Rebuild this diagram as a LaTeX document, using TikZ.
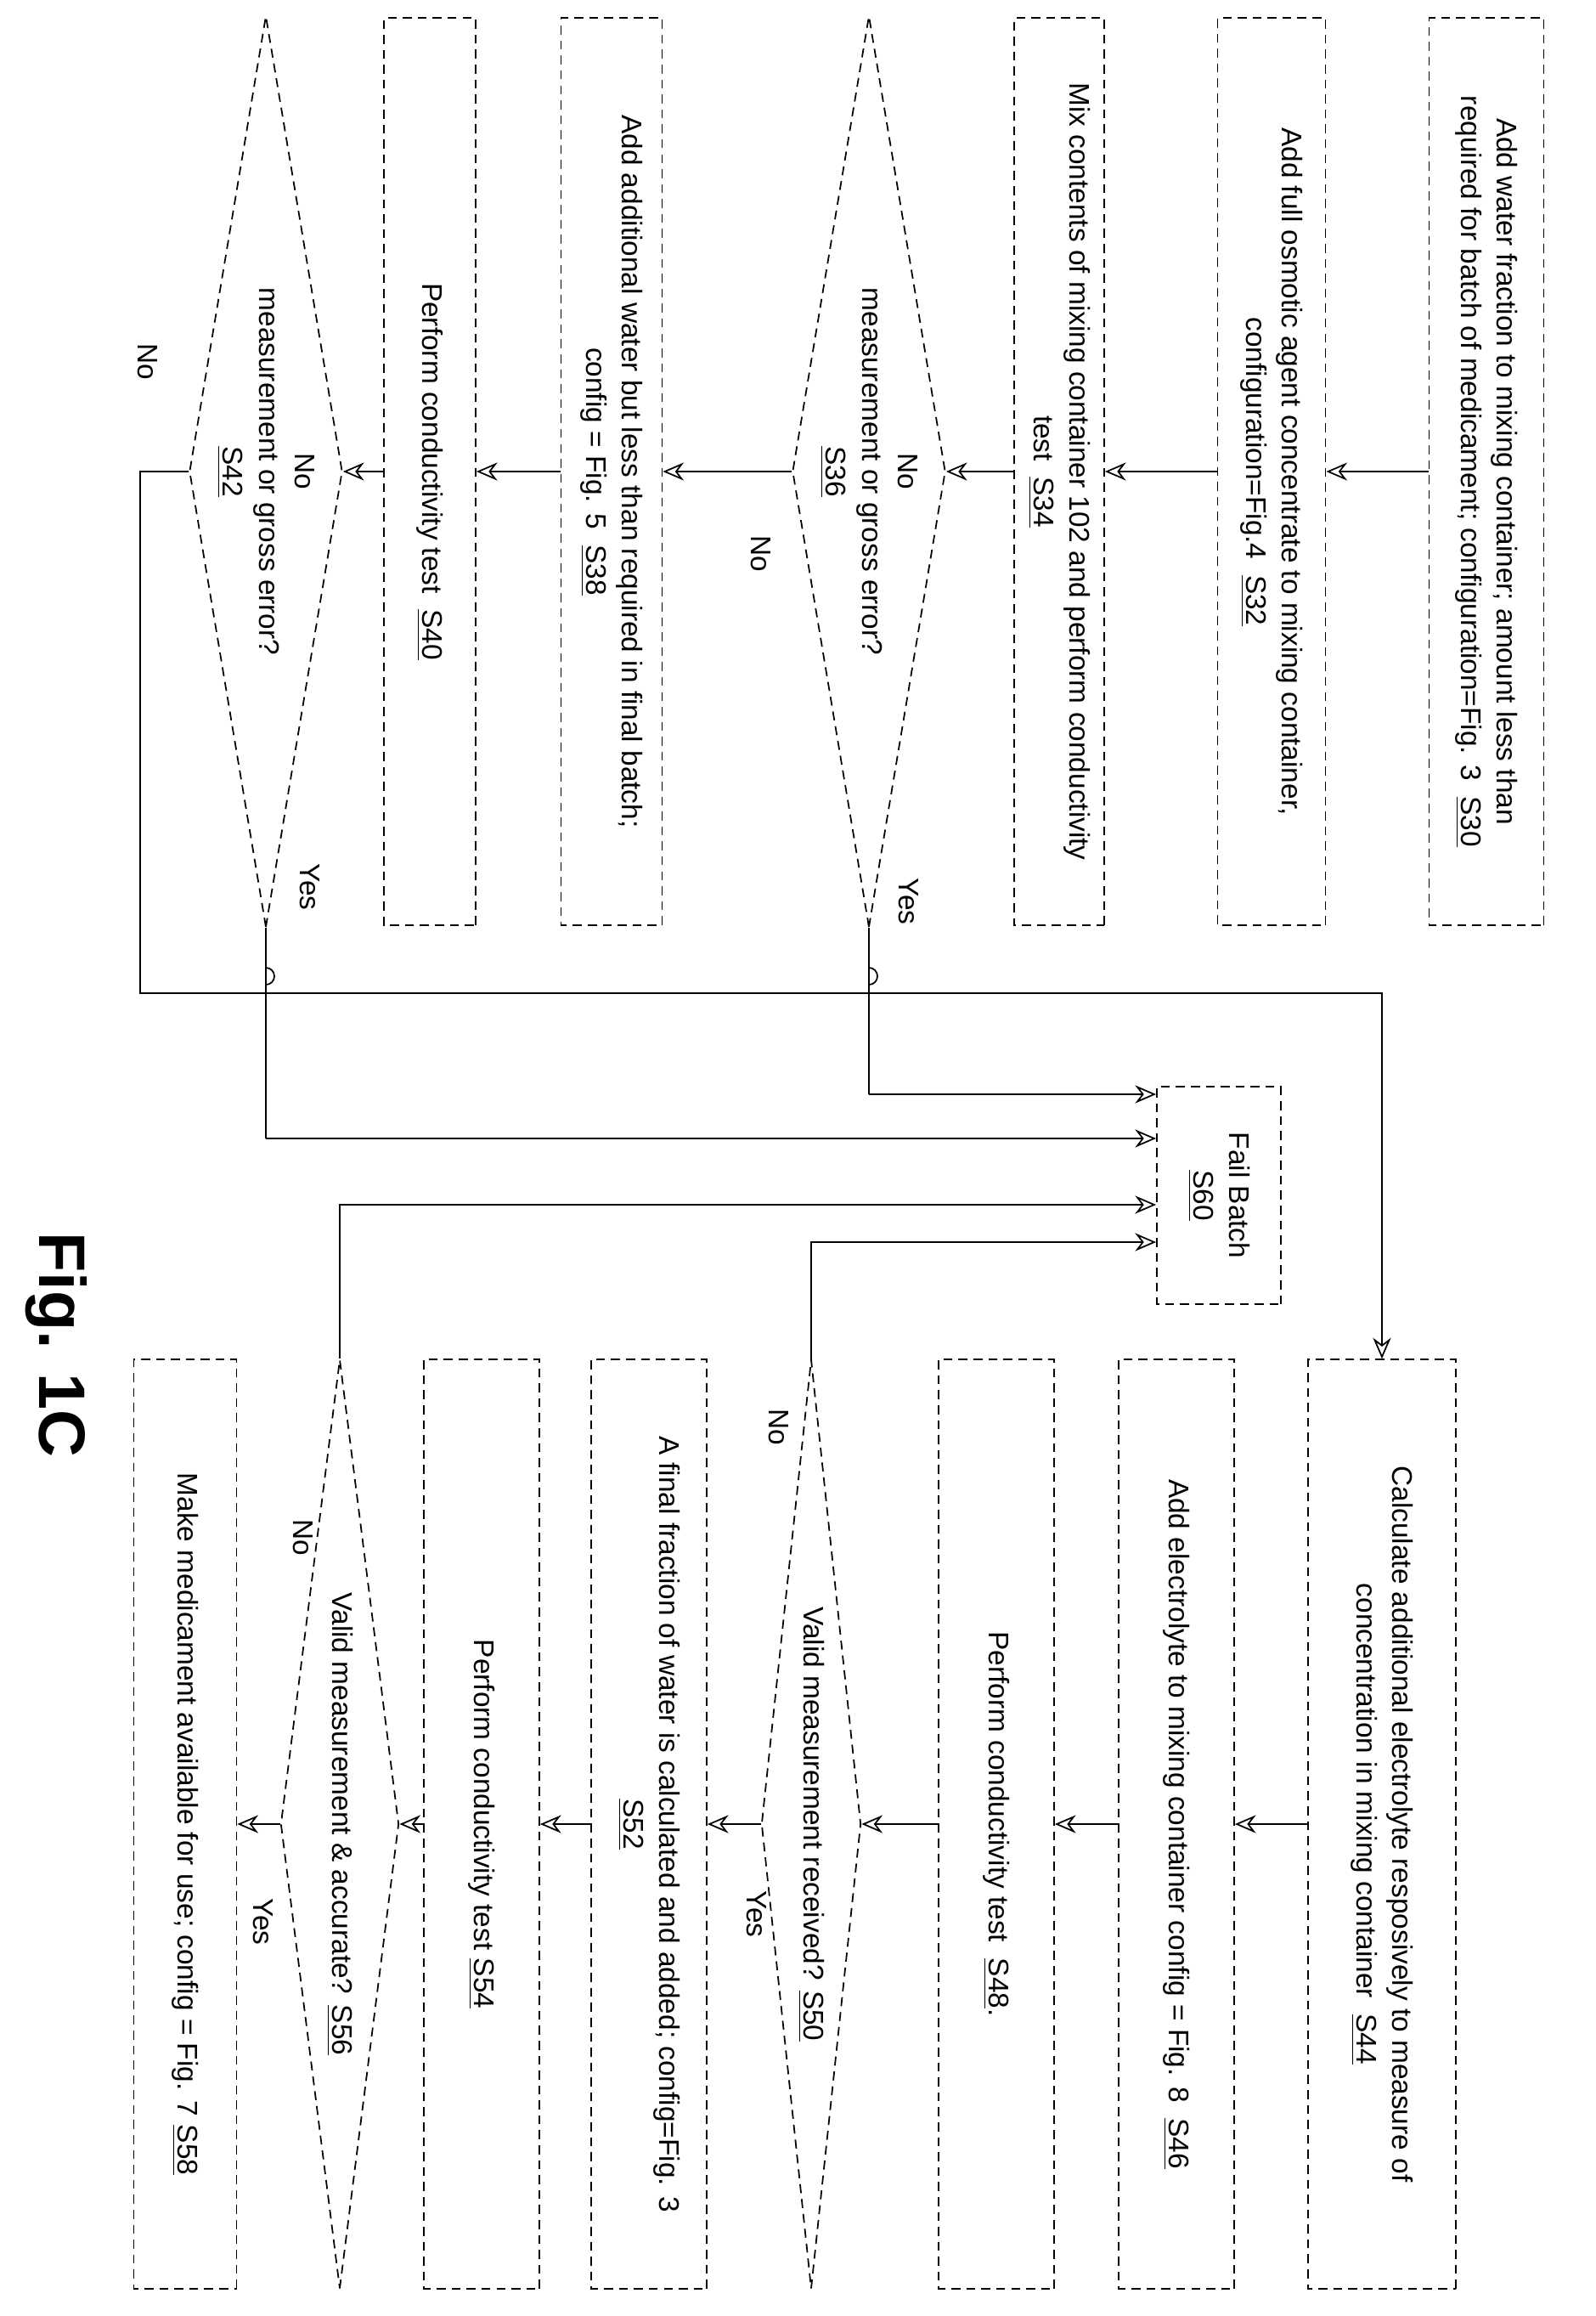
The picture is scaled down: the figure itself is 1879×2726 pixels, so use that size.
\documentclass[tikz,border=0pt]{standalone}
\usepackage{fontspec}
\setmainfont{Liberation Sans}
\usetikzlibrary{shapes.geometric,arrows.meta}
\begin{document}
\begin{tikzpicture}[x=0.01cm,y=-0.01cm,
  box/.style={draw,densely dashed,line width=0.5pt,rotate=-90,inner sep=2pt,align=center,font=\fontsize{9.5}{12}\selectfont},
  dia/.style={draw,densely dashed,line width=0.5pt,rotate=-90,diamond,inner sep=0pt},
  txt/.style={rotate=-90,align=center,font=\fontsize{9.5}{12}\selectfont},
  arr/.style={line width=0.5pt,-{Stealth[open,length=7pt,width=6pt]}},
  ln/.style={line width=0.5pt}]
\useasboundingbox (0,0) rectangle (1879,2726);
% top column
\node[box,minimum width=10.67cm,minimum height=1.35cm] (s30) at (1750,555) {Add water fraction to mixing container; amount less than\\required for batch of medicament; configuration=Fig. 3\ \ \underline{S30}};
\node[box,minimum width=10.67cm,minimum height=1.27cm] (s32) at (1497,555) {Add full osmotic agent concentrate to mixing container,\\configuration=Fig.4\ \ \underline{S32}};
\node[box,minimum width=10.67cm,minimum height=1.06cm] (s34) at (1247,555) {Mix contents of mixing container 102 and perform conductivity\\test\ \ \underline{S34}};
\node[dia,minimum width=10.72cm,minimum height=1.8cm] (s36) at (1023,555) {};
\node[txt] at (1023,555) {No\\measurement or gross error?\\\underline{S36}};
\node[box,minimum width=10.67cm,minimum height=1.19cm] (s38) at (720,555) {Add additional water but less than required in final batch;\\config = Fig. 5\ \ \underline{S38}};
\node[box,minimum width=10.67cm,minimum height=1.08cm] (s40) at (506,555) {Perform conductivity test\ \ \underline{S40}};
\node[dia,minimum width=10.72cm,minimum height=1.8cm] (s42) at (313,555) {};
\node[txt] at (313,555) {No\\measurement or gross error?\\\underline{S42}};
% fail
\node[box,minimum width=2.56cm,minimum height=1.46cm] (fail) at (1435,1407) {Fail Batch\\\underline{S60}};
% bottom column
\node[box,minimum width=10.93cm,minimum height=1.74cm] (s44) at (1627,2147) {Calculate additional electrolyte resposively to measure of\\concentration in mixing container\ \ \underline{S44}};
\node[box,minimum width=10.93cm,minimum height=1.36cm] (s46) at (1385,2147) {Add electrolyte to mixing container config = Fig. 8\ \ \underline{S46}};
\node[box,minimum width=10.93cm,minimum height=1.36cm] (s48) at (1173,2147) {Perform conductivity test\ \ \underline{S48}.};
\node[dia,minimum width=10.93cm,minimum height=1.17cm] (s50) at (955,2147) {};
\node[txt] at (955,2147) {Valid measurement received? \underline{S50}};
\node[box,minimum width=10.93cm,minimum height=1.36cm] (s52) at (764,2147) {A final fraction of water is calculated and added; config=Fig. 3\\\underline{S52}};
\node[box,minimum width=10.93cm,minimum height=1.36cm] (s54) at (567,2147) {Perform conductivity test \underline{S54}};
\node[dia,minimum width=10.93cm,minimum height=1.39cm] (s56) at (400,2147) {};
\node[txt] at (400,2147) {Valid measurement \& accurate? \underline{S56}};
\node[box,minimum width=10.93cm,minimum height=1.21cm] (s58) at (218,2147) {Make medicament available for use; config = Fig. 7 \underline{S58}};
% main flow arrows
\draw[arr] (s30.south) -- (s32.north);
\draw[arr] (s32.south) -- (s34.north);
\draw[arr] (s34.south) -- (s36.north);
\draw[arr] (s36.south) -- (s38.north);
\draw[arr] (s38.south) -- (s40.north);
\draw[arr] (s40.south) -- (s42.north);
\draw[arr] (s44.south) -- (s46.north);
\draw[arr] (s46.south) -- (s48.north);
\draw[arr] (s48.south) -- (s50.north);
\draw[arr] (s50.south) -- (s52.north);
\draw[arr] (s52.south) -- (s54.north);
\draw[arr] (s54.south) -- (s56.north);
\draw[arr] (s56.south) -- (s58.north);
% S42 No -> S44
\coordinate (c1) at (165,555);
\coordinate (c2) at (165,1169);
\coordinate (c3) at (1627,1169);
\draw[arr] (s42.south) -- (c1) -- (c2) -- (c3) -- (s44.west);
% yes branches with hops
\coordinate (h1a) at (1023,1159);
\coordinate (y1) at (1023,1288);
\draw[ln] (s36.east) -- (h1a) arc[start angle=-90,end angle=90,radius=0.1cm] -- (y1);
\draw[arr] (y1) -- (fail.south |- y1);
\coordinate (h2a) at (313,1159);
\coordinate (y2) at (313,1340);
\draw[ln] (s42.east) -- (h2a) arc[start angle=-90,end angle=90,radius=0.1cm] -- (y2);
\draw[arr] (y2) -- (fail.south |- y2);
% bottom No branches
\coordinate (n1) at (955,1462);
\draw[arr] (s50.west) -- (n1) -- (fail.south |- n1);
\coordinate (n2) at (400,1418);
\draw[arr] (s56.west) -- (n2) -- (fail.south |- n2);
% labels
\node[txt] at (1070,1061) {Yes};
\node[txt] at (896,652) {No};
\node[txt] at (174,426) {No};
\node[txt] at (365,1044) {Yes};
\node[txt] at (917,1680) {No};
\node[txt] at (891,2253) {Yes};
\node[txt] at (357,1810) {No};
\node[txt] at (310,2262) {Yes};
\node[rotate=-90,font=\fontsize{22}{24}\bfseries] (fig) at (66,1583) {Fig. 1C};
\end{tikzpicture}
\end{document}
